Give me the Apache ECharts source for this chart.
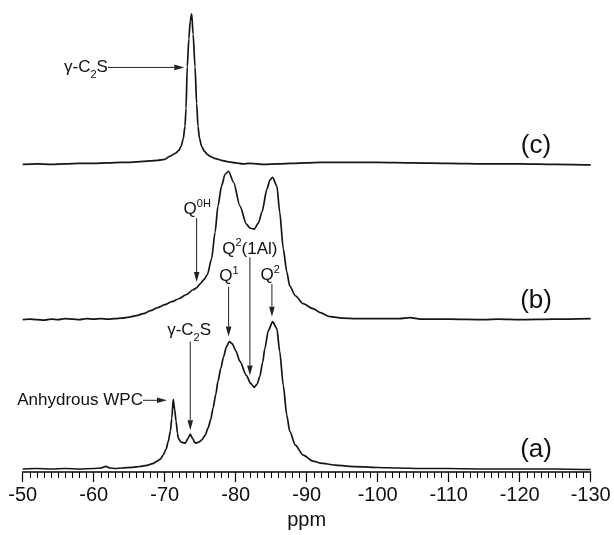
<!DOCTYPE html>
<html><head><meta charset="utf-8">
<script src="https://cdn.jsdelivr.net/npm/echarts@6/dist/echarts.min.js"></script>
<style>html,body{margin:0;padding:0;background:#fff}#c{width:614px;height:535px}</style>
</head><body><div id="c"></div>
<script>
// ---- data: [ppm, intensity above the trace's own baseline] ----
const traceC = [
  [-50,-1],[-52,-0.5],[-54,-1],[-56,-0.5],[-58,0],[-60,0],[-62,0.5],[-64,1],[-65,1],[-66,1.5],[-67,2],[-68,2.5],[-69,3],
  [-70,4],[-70.7,7],[-71.5,10],[-72,13],[-72.3,17],[-72.6,24],[-72.86,37],[-73.0,55],[-73.18,97],[-73.4,125],[-73.6,143],
  [-73.8,150],[-74.0,130],[-74.27,97],[-74.5,60],[-74.69,37],[-74.9,25],[-75.2,17],[-75.6,12],[-76.0,9],[-76.4,7],
  [-77,5],[-78,3],[-79,1.5],[-80,0.5],[-81,-0.5],[-82,0],[-84,-1],[-86,-0.5],[-88,0],[-90,0.5],[-92,1],[-95,1],
  [-100,1],[-105,0.5],[-110,0],[-115,-0.5],[-120,-0.5],[-125,-1],[-130,-1.5]
];
const traceB = [
  [-50,0],[-51,0.5],[-52,0],[-53,-0.5],[-54,0.5],[-55,0],[-56,1],[-57,0.5],[-58,0],[-59,1],[-60,0.5],[-61,1],[-62,0.5],
  [-63,1],[-64,1.5],[-65,2.5],[-66,4],[-67,6],[-68,9],[-69,12],[-70,15],[-71,18],[-72,21],[-73,25],[-74,30],[-74.5,32],
  [-75,36],[-75.5,40],[-76,45],[-76.6,61],[-77.1,88],[-77.5,114],[-78.0,134],[-78.5,146],[-79.0,149],[-79.7,138],
  [-80.6,114],[-81.5,96],[-82.0,92],[-82.6,91],[-83.2,97],[-83.7,108],[-84.4,131],[-84.8,140],[-85.2,143],[-85.8,134],
  [-86.2,108],[-86.7,71],[-87.2,48],[-87.6,34],[-88.4,24],[-89.5,16],[-90.9,11],[-91.9,7],[-93.3,3],[-95,1.5],[-97,1],
  [-100,1],[-103,1],[-104.6,2],[-106,0.5],[-110,0.5],[-115,0],[-117,0.5],[-120,0],[-125,0.5],[-130,1]
];
const traceA = [
  [-50,0],[-52,0.5],[-54,0],[-56,0.5],[-58,0],[-60,0.5],[-61,1],[-61.7,2.7],[-62.3,1],[-63,0.5],[-64,1],[-65.5,1.7],
  [-66.5,2.5],[-67.5,3.7],[-68.3,5.5],[-68.9,7.7],[-69.4,10],[-69.8,14.3],[-70.2,20],[-70.5,27.7],[-70.8,38],[-71.0,51],
  [-71.2,70],[-71.4,60],[-71.6,48],[-71.8,36],[-71.9,31],[-72.3,27],[-72.9,26],[-73.3,31],[-73.6,35],[-73.9,31],
  [-74.3,26],[-74.8,27],[-75.2,29],[-75.7,34],[-76.1,41],[-76.5,50],[-76.8,61],[-77.2,75],[-77.5,88],[-77.9,101],
  [-78.3,113],[-78.7,123],[-79.1,128],[-79.5,126],[-80.0,119],[-80.6,108],[-81.5,94],[-82.1,86],[-82.6,82],[-83.0,85],
  [-83.4,93],[-83.8,107],[-84.1,121],[-84.6,139],[-85.2,148],[-85.8,141],[-86.2,118],[-86.7,84],[-87.2,54],[-87.6,38],
  [-88.4,24],[-89.5,14],[-90.9,8],[-91.9,6],[-94,4],[-96,2.7],[-100,1.5],[-103,1],[-106,0.5],[-110,0.5],[-115,0],
  [-120,0],[-125,0],[-130,-0.5]
];
const offsetA = 3, offsetB = 153, offsetC = 310;   // vertical stacking of the traces
const tickMin = -130, tickMax = -50, tickStep = 10;

// annotations: [ppm, y] in chart units
const traceLabels = [
  {text:'(c)', at:[-122.3, 328]},
  {text:'(b)', at:[-122.3, 172]},
  {text:'(a)', at:[-122.3, 22]}
];
const notes = [
  {text:'{n|γ-C}{sub|2}{n|S}', at:[-62.0, 406], align:'right'},
  {text:'{n|Anhydrous WPC}', at:[-66.93, 72], align:'right'},
  {text:'{n|Q}{sup|0H}', at:[-74.58, 264], align:'center'},
  {text:'{n|Q}{sup|2}{n|(1Al)}', at:[-82.0, 224], align:'center'},
  {text:'{n|Q}{sup|1}', at:[-79.06, 196.5], align:'center'},
  {text:'{n|Q}{sup|2}', at:[-84.85, 197.5], align:'center'},
  {text:'{n|γ-C}{sub|2}{n|S}', at:[-73.44, 142.3], align:'center'}
];
const arrows = [
  [[-62.0, 406.3], [-72.76, 406.3]],
  [[-66.93, 72], [-70.32, 72]],
  [[-74.5, 255], [-74.5, 190.7]],
  [[-82.0, 215.7], [-82.0, 97]],
  [[-79.0, 186], [-79.0, 136]],
  [[-85.1, 189], [-85.1, 156]],
  [[-73.6, 131], [-73.6, 42]]
];

const FONT = 'Liberation Sans, Arial, sans-serif';
const ink = '#111';
const chart = echarts.init(document.getElementById('c'), null, {renderer:'canvas'});
const mk = (arr, off) => arr.map(([p, h]) => [p, h + off]);
const lineSeries = (name, arr, off) => ({
  name, type:'line', data: mk(arr, off), showSymbol:false, smooth:0.25, smoothMonotone:'x',
  lineStyle:{color:'#151515', width:1.7}, silent:true, animation:false, clip:false
});
chart.setOption({
  animation:false,
  grid:{left:22.7, right:23.3, top:0, bottom:61, containLabel:false},
  xAxis:{
    type:'value', min:tickMin, max:tickMax, interval:tickStep, inverse:true,
    axisLine:{show:true, onZero:false, lineStyle:{color:'#000', width:1.5}},
    axisTick:{show:true, length:10, lineStyle:{color:'#000', width:1.2}},
    minorTick:{show:true, splitNumber:10, length:6, lineStyle:{color:'#000', width:1}},
    splitLine:{show:false},
    axisLabel:{fontSize:20, color:ink, margin:13, fontFamily:FONT},
    name:'ppm', nameLocation:'middle', nameGap:38,
    nameTextStyle:{fontSize:20, color:ink, fontFamily:FONT}
  },
  yAxis:{type:'value', min:0, max:474, show:false},
  series:[lineSeries('a', traceA, offsetA), lineSeries('b', traceB, offsetB), lineSeries('c', traceC, offsetC)]
});

const px = p => chart.convertToPixel({gridIndex:0}, p);
const g = [];
const rich = {
  n:{fontSize:17, fontFamily:FONT, color:ink, lineHeight:22},
  sup:{fontSize:11, fontFamily:FONT, color:ink, lineHeight:11, verticalAlign:'top'},
  sub:{fontSize:11, fontFamily:FONT, color:ink, lineHeight:26, verticalAlign:'bottom'}
};
traceLabels.forEach(l => {
  const [x, y] = px(l.at);
  g.push({type:'text', x, y, silent:true, style:{text:l.text, fontSize:26, fontFamily:FONT, fill:ink, align:'center', verticalAlign:'middle'}});
});
notes.forEach(l => {
  const [x, y] = px(l.at);
  g.push({type:'text', x, y, silent:true, style:{text:l.text, rich, align:l.align, verticalAlign:'middle', fill:ink}});
});
arrows.forEach(([a, b]) => {
  const s = px(a), e = px(b);
  const dx = e[0]-s[0], dy = e[1]-s[1], L = Math.hypot(dx, dy), ux = dx/L, uy = dy/L;
  const hl = 10, hw = 2.8;
  const bx = e[0]-ux*hl, by = e[1]-uy*hl;
  g.push({type:'line', silent:true, shape:{x1:s[0], y1:s[1], x2:bx, y2:by}, style:{stroke:'#222', lineWidth:1}});
  g.push({type:'polygon', silent:true, shape:{points:[[e[0],e[1]],[bx-uy*hw, by+ux*hw],[bx+uy*hw, by-ux*hw]]}, style:{fill:'#222'}});
});
chart.setOption({graphic:g});
</script></body></html>
